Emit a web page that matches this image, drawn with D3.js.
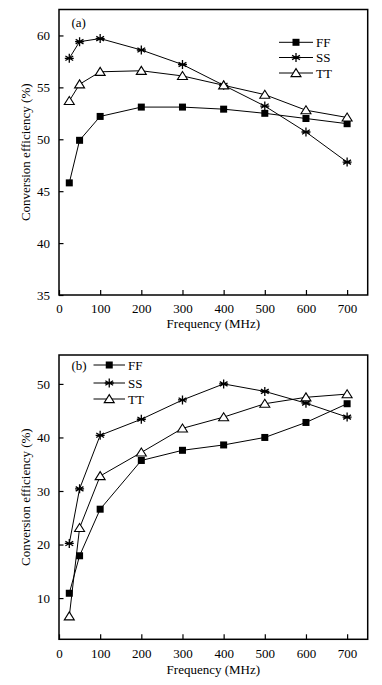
<!DOCTYPE html>
<html><head><meta charset="utf-8">
<script src="https://cdn.jsdelivr.net/npm/d3@7"></script>
<style>body{margin:0;background:#fff}svg{display:block}text{font-family:"Liberation Serif","Times New Roman",serif;fill:#000}</style>
</head><body><svg id="c" width="382" height="685"></svg>
<script>
const freqs = [25, 50, 100, 200, 300, 400, 500, 600, 700];
const xTicks = [0, 100, 200, 300, 400, 500, 600, 700];
const seriesNames = ["FF", "SS", "TT"];
// panel (a)
const aFF = [45.8, 49.9, 52.2, 53.1, 53.1, 52.9, 52.5, 52.0, 51.5];
const aSS = [57.8, 59.4, 59.7, 58.6, 57.2, 55.2, 53.2, 50.7, 47.8];
const aTT = [53.7, 55.3, 56.5, 56.6, 56.1, 55.2, 54.3, 52.8, 52.1];
const aYTicks = [35, 40, 45, 50, 55, 60];
// panel (b)
const bFF = [10.9, 17.9, 26.6, 35.7, 37.6, 38.6, 40.0, 42.8, 46.3];
const bSS = [20.2, 30.4, 40.4, 43.4, 47.0, 50.0, 48.6, 46.4, 43.8];
const bTT = [6.6, 23.1, 32.8, 37.2, 41.7, 43.8, 46.3, 47.5, 48.1];
const bYTicks = [10, 20, 30, 40, 50];

const svg = d3.select("#c");
svg.append("rect").attr("width",382).attr("height",685).attr("fill","#fff");

function marker(g, type, x, y) {
  if (type === "FF") {
    g.append("rect").attr("x", x-3.5).attr("y", y-3.5).attr("width",7).attr("height",7).attr("fill","#000");
  } else if (type === "SS") {
    const r = 4.5;
    const p = d3.path();
    [90, 30, 150, 0].forEach(a => {
      const t = a*Math.PI/180;
      p.moveTo(x - r*Math.cos(t), y - r*Math.sin(t));
      p.lineTo(x + r*Math.cos(t), y + r*Math.sin(t));
    });
    g.append("path").attr("d", p.toString()).attr("stroke","#000").attr("stroke-width",1.3).attr("fill","none");
  } else {
    const w = 5, h = 8;
    g.append("path").attr("d", `M${x},${y-h*0.55}L${x+w},${y+h*0.45}L${x-w},${y+h*0.45}Z`)
      .attr("fill","#fff").attr("stroke","#000").attr("stroke-width",1.1);
  }
}

function panel(cfg) {
  const g = svg.append("g");
  const x = d3.scaleLinear().domain([0, 750]).range([59, 367.7]);
  const y = d3.scaleLinear().domain(cfg.yDomain).range([cfg.bottom, cfg.top]);
  // frame
  g.append("rect").attr("x",59).attr("y",cfg.top).attr("width",367.7-59).attr("height",cfg.bottom-cfg.top)
    .attr("fill","none").attr("stroke","#000").attr("stroke-width",1.5);
  // x axis (ticks inward)
  const xa = g.append("g").attr("transform",`translate(0,${cfg.bottom})`)
    .call(d3.axisBottom(x).tickValues(xTicks).tickSizeInner(-5).tickSizeOuter(0).tickPadding(9));
  xa.select(".domain").remove();
  xa.selectAll("line").attr("stroke-width",1.2);
  xa.selectAll("text").attr("font-size",13).attr("font-family","Liberation Serif").attr("dy","0.71em");
  const ya = g.append("g").attr("transform",`translate(59,0)`)
    .call(d3.axisLeft(y).tickValues(cfg.yTicks).tickSizeInner(-4.5).tickSizeOuter(0).tickPadding(9));
  ya.select(".domain").remove();
  ya.selectAll("line").attr("stroke-width",1.2);
  ya.selectAll("text").attr("font-size",13).attr("font-family","Liberation Serif");
  // labels
  g.append("text").attr("x",(59+367.7)/2).attr("y",cfg.xLabelY).attr("text-anchor","middle").attr("font-size",13).text("Frequency (MHz)");
  g.append("text").attr("transform",`translate(30,${(cfg.top+cfg.bottom)/2}) rotate(-90)`).attr("text-anchor","middle").attr("font-size",13).text("Conversion efficiency (%)");
  g.append("text").attr("x",71.5).attr("y",cfg.tagY).attr("font-size",13).text(cfg.tag);
  // lines
  const line = d3.line().x((d,i)=>x(freqs[i])).y(d=>y(d));
  cfg.series.forEach((s,k) => {
    g.append("path").attr("d", line(s)).attr("fill","none").attr("stroke","#000").attr("stroke-width",1);
  });
  cfg.series.forEach((s,k) => {
    s.forEach((v,i) => marker(g, seriesNames[k], x(freqs[i]), y(v)));
  });
  // legend
  seriesNames.forEach((n,k) => {
    const ly = cfg.leg.y[k];
    g.append("line").attr("x1",cfg.leg.x1).attr("x2",cfg.leg.x2).attr("y1",ly).attr("y2",ly).attr("stroke","#000").attr("stroke-width",1);
    marker(g, n, (cfg.leg.x1+cfg.leg.x2)/2, ly);
    g.append("text").attr("x",cfg.leg.x2+3).attr("y",ly).attr("dy","0.35em").attr("font-size",13).text(n);
  });
}

panel({top:9.5, bottom:295, yDomain:[35,62.5], yTicks:aYTicks, series:[aFF,aSS,aTT],
  xLabelY:328, tag:"(a)", tagY:27, leg:{x1:279, x2:313, y:[42.3,57.5,73]}});
panel({top:355, bottom:639.3, yDomain:[2.3,55.4], yTicks:bYTicks, series:[bFF,bSS,bTT],
  xLabelY:674, tag:"(b)", tagY:369.5, leg:{x1:93.5, x2:125, y:[365,383,399]}});
</script></body></html>
